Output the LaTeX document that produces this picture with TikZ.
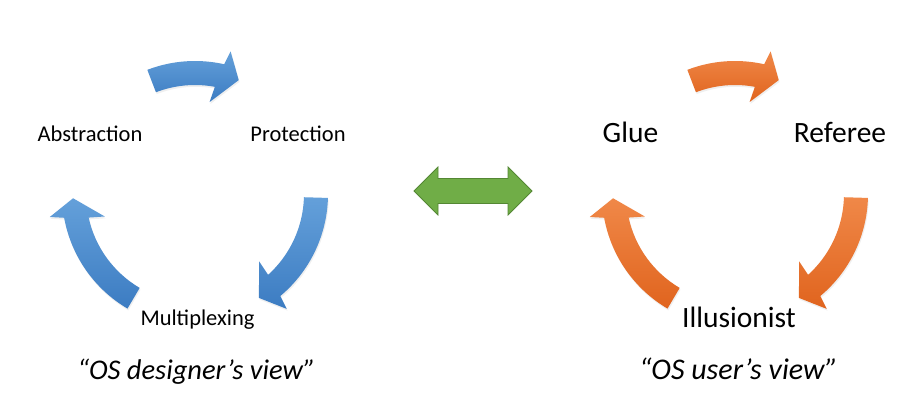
\documentclass[tikz,border=0pt]{standalone}
\usepackage{fontspec}
\setmainfont{Carlito}
\usetikzlibrary{shadows}
\definecolor{blueTop}{RGB}{100,160,218}
\definecolor{blueBot}{RGB}{60,124,194}
\definecolor{orTop}{RGB}{240,136,72}
\definecolor{orBot}{RGB}{224,100,30}
\definecolor{grFill}{RGB}{112,173,71}
\definecolor{grLine}{RGB}{84,135,52}
\newcommand\cycarrow[4]{%
  \begin{scope}[shift={(#1)}]
    \path[#4] (#2:133) arc[start angle=#2, end angle={#3+8.3}, radius=133pt]
      -- ({#3+7}:147) -- (#3:122) -- ({#3+12}:93) -- ({#3+10.5}:109)
      arc[start angle={#3+10.5}, end angle=#2, radius=109pt] -- cycle;
  \end{scope}}
\begin{document}
\begin{tikzpicture}[x=1pt,y=1pt,
  softshadow/.style={drop shadow={opacity=0.12, shadow xshift=0.8pt, shadow yshift=-1.8pt}},
  bluearrow/.style={softshadow, top color=blueTop, bottom color=blueBot},
  orangearrow/.style={softshadow, top color=orTop, bottom color=orBot},
  lblsmall/.style={anchor=base, inner sep=0pt, font=\fontsize{22.5}{27}\selectfont},
  lblbig/.style={anchor=base, inner sep=0pt, font=\fontsize{29.5}{35}\selectfont},
  caption/.style={anchor=base, inner sep=0pt, font=\fontsize{#1}{34}\selectfont\itshape}]
\fill[white] (0,0) rectangle (923,412);
\useasboundingbox (0,0) rectangle (923,412);
% left cycle
\cycarrow{195,218}{111}{69}{bluearrow}
\cycarrow{195,218}{-1.7}{-58.4}{bluearrow}
\cycarrow{195,218}{239.5}{182}{bluearrow}
% right cycle
\cycarrow{735,218}{111}{69}{orangearrow}
\cycarrow{735,218}{-1.7}{-58.4}{orangearrow}
\cycarrow{735,218}{239.5}{182}{orangearrow}
% green double arrow
\path[draw=grLine, fill=grFill, line width=0.8pt]
  (414,221) -- (438,245) -- (438,233.5) -- (508,233.5) -- (508,245) -- (532,221)
  -- (508,197) -- (508,208.5) -- (438,208.5) -- (438,197) -- cycle;
% labels
\node[lblsmall] (abs) at (90,270) {Abstraction};
\node[lblsmall] (pro) at (298,270) {Protection};
\node[lblsmall] (mux) at (197.5,86) {Multiplexing};
\node[lblbig] (glue) at (630.5,269) {Glue};
\node[lblbig] (ref) at (840,269) {Referee};
\node[lblbig] (ill) at (739,84) {Illusionist};
\node[caption=28.5] (cap1) at (196.5,32) {“OS designer’s view”};
\node[caption=30] (cap2) at (738.5,32) {“OS user’s view”};
\end{tikzpicture}
\end{document}
